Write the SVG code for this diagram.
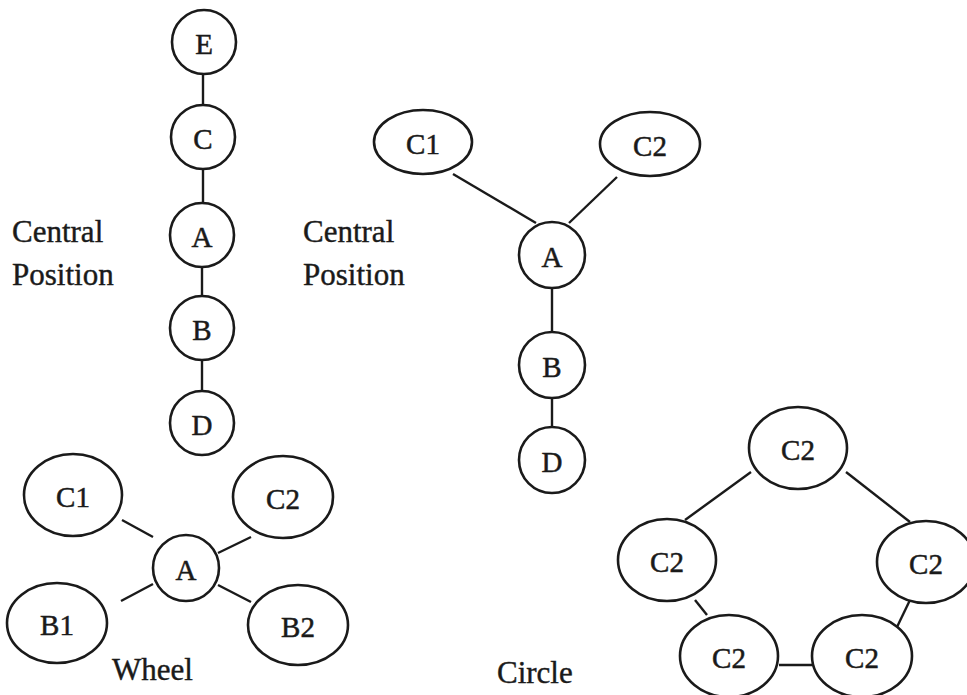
<svg xmlns="http://www.w3.org/2000/svg" width="967" height="695" viewBox="0 0 967 695">
  <style>
    .node { fill: #fff; stroke: #1a1a1a; stroke-width: 2.6; }
    .edge { stroke: #1a1a1a; stroke-width: 2.4; fill: none; }
    .lbl { font-family: "Liberation Serif", "Times New Roman", serif; font-size: 29px; fill: #1a1a1a; stroke: #1a1a1a; stroke-width: 0.5; text-anchor: middle; dominant-baseline: central; }
    .cap { font-family: "Liberation Serif", "Times New Roman", serif; font-size: 31px; fill: #1a1a1a; stroke: #1a1a1a; stroke-width: 0.4; }
  </style>
  <rect width="967" height="695" fill="#fff"/>

  <!-- connectors -->
  <g id="connectors">
    <!-- vertical chain -->
    <line class="edge" x1="203" y1="74" x2="203" y2="105"/>
    <line class="edge" x1="203" y1="169" x2="203" y2="203"/>
    <line class="edge" x1="202" y1="267" x2="202" y2="296"/>
    <line class="edge" x1="202" y1="360" x2="202" y2="391"/>
    <!-- Y shape -->
    <line class="edge" x1="453" y1="174" x2="536" y2="223"/>
    <line class="edge" x1="617" y1="177" x2="569" y2="223"/>
    <line class="edge" x1="552" y1="288" x2="552" y2="333"/>
    <line class="edge" x1="552" y1="398" x2="552" y2="428"/>
    <!-- wheel -->
    <line class="edge" x1="122" y1="520" x2="153" y2="537"/>
    <line class="edge" x1="251" y1="537" x2="218" y2="553"/>
    <line class="edge" x1="121" y1="601" x2="153" y2="584"/>
    <line class="edge" x1="218" y1="585" x2="251" y2="602"/>
    <!-- circle -->
    <line class="edge" x1="751" y1="472" x2="685" y2="520"/>
    <line class="edge" x1="846" y1="472" x2="910" y2="522"/>
    <line class="edge" x1="695" y1="600" x2="707" y2="615"/>
    <line class="edge" x1="779" y1="665" x2="813" y2="665"/>
    <line class="edge" x1="910" y1="600" x2="897" y2="627"/>
  </g>

  <!-- chain network -->
  <g id="chain-E"><circle class="node" cx="204" cy="42" r="32"/><text class="lbl" x="204" y="44">E</text></g>
  <g id="chain-C"><circle class="node" cx="203" cy="137" r="32"/><text class="lbl" x="203" y="139">C</text></g>
  <g id="chain-A"><circle class="node" cx="202" cy="235" r="32"/><text class="lbl" x="202" y="237">A</text></g>
  <g id="chain-B"><circle class="node" cx="202" cy="328" r="32"/><text class="lbl" x="202" y="330">B</text></g>
  <g id="chain-D"><circle class="node" cx="202" cy="423" r="32"/><text class="lbl" x="202" y="425">D</text></g>

  <g id="caption-chain">
    <text class="cap" x="12" y="242">Central</text>
    <text class="cap" x="12" y="285">Position</text>
  </g>

  <!-- Y network -->
  <g id="y-C1"><ellipse class="node" cx="423" cy="142" rx="49" ry="32"/><text class="lbl" x="423" y="144">C1</text></g>
  <g id="y-C2"><ellipse class="node" cx="650" cy="144" rx="50" ry="32"/><text class="lbl" x="650" y="146">C2</text></g>
  <g id="y-A"><circle class="node" cx="552" cy="255" r="33"/><text class="lbl" x="552" y="257">A</text></g>
  <g id="y-B"><circle class="node" cx="552" cy="365" r="33"/><text class="lbl" x="552" y="367">B</text></g>
  <g id="y-D"><circle class="node" cx="552" cy="460" r="33"/><text class="lbl" x="552" y="462">D</text></g>

  <g id="caption-y">
    <text class="cap" x="303" y="242">Central</text>
    <text class="cap" x="303" y="285">Position</text>
  </g>

  <!-- wheel network -->
  <g id="wheel-C1"><ellipse class="node" cx="73" cy="495" rx="49" ry="41"/><text class="lbl" x="73" y="497">C1</text></g>
  <g id="wheel-C2"><ellipse class="node" cx="283" cy="497" rx="50" ry="41"/><text class="lbl" x="283" y="499">C2</text></g>
  <g id="wheel-A"><circle class="node" cx="186" cy="568" r="33"/><text class="lbl" x="186" y="570">A</text></g>
  <g id="wheel-B1"><ellipse class="node" cx="57" cy="623" rx="50" ry="40"/><text class="lbl" x="57" y="625">B1</text></g>
  <g id="wheel-B2"><ellipse class="node" cx="298" cy="625" rx="50" ry="40"/><text class="lbl" x="298" y="627">B2</text></g>
  <text class="cap" x="112" y="680">Wheel</text>

  <!-- circle network -->
  <g id="circle-top"><ellipse class="node" cx="798" cy="448" rx="49" ry="41"/><text class="lbl" x="798" y="450">C2</text></g>
  <g id="circle-left"><ellipse class="node" cx="667" cy="560" rx="49" ry="41"/><text class="lbl" x="667" y="562">C2</text></g>
  <g id="circle-right"><ellipse class="node" cx="926" cy="562" rx="49" ry="41"/><text class="lbl" x="926" y="564">C2</text></g>
  <g id="circle-bottom-left"><ellipse class="node" cx="729" cy="656" rx="49" ry="41"/><text class="lbl" x="729" y="658">C2</text></g>
  <g id="circle-bottom-right"><ellipse class="node" cx="862" cy="656" rx="50" ry="41"/><text class="lbl" x="862" y="658">C2</text></g>
  <text class="cap" x="497" y="683">Circle</text>
</svg>
